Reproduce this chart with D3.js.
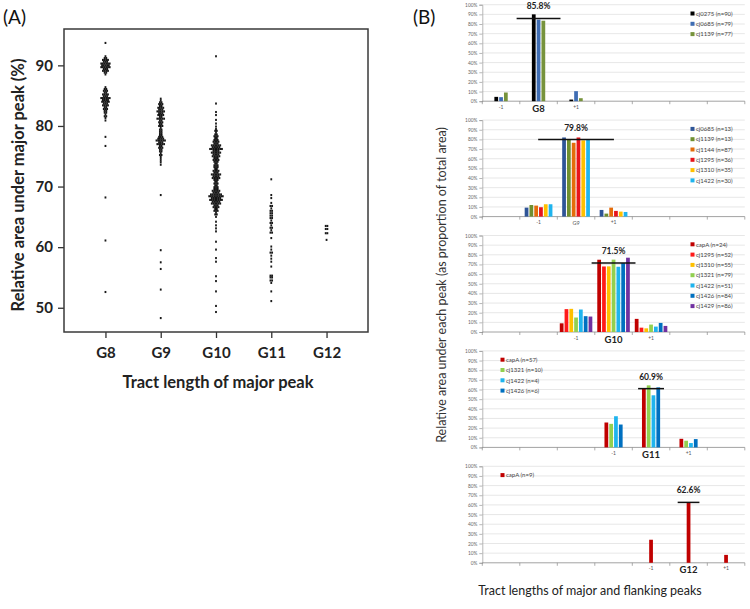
<!DOCTYPE html>
<html><head><meta charset="utf-8">
<script src="https://cdn.jsdelivr.net/npm/d3@7"></script>
<style>body{margin:0;background:#fff} svg{display:block}</style>
</head><body><svg id="c" width="750" height="609"></svg>
<script>
// ---------- Panel A data ----------
const aCategories = ["G8","G9","G10","G11","G12"];
const aTicks = [50,60,70,80,90];
const g8Values = [93.7,91.5,91.2,90.9,90.6,90.3,90.0,89.7,89.4,89.1,88.8,88.5,86.4,86.1,85.8,85.5,85.2,84.9,84.6,84.3,84.0,83.7,83.4,83.1,82.8,82.5,82.2,81.9,81.6,81.3,80.9,78.2,76.7,68.2,61.1,52.6];
const g8Counts = [1,1,2,4,3,6,5,6,3,4,2,1,1,2,3,2,4,3,6,4,5,3,4,2,3,2,2,1,2,1,1,1,1,1,1,1];
const g9Values = [84.5,84.2,83.9,83.6,83.3,83.0,82.7,82.4,82.1,81.8,81.5,81.2,80.9,80.6,80.3,80.0,79.7,79.4,79.1,78.8,78.5,78.2,77.9,77.6,77.3,77.0,76.7,76.4,76.1,75.8,75.5,75.2,74.9,74.6,74.3,74.0,73.6,68.6,59.5,57.5,56.4,53.0,48.3];
const g9Counts = [1,1,2,3,2,4,3,5,3,4,2,5,2,3,2,3,1,2,2,2,2,3,4,6,3,5,2,3,2,2,1,2,1,1,1,1,1,1,1,1,1,1,1];
const g10Values = [91.5,83.7,82.3,81.8,81.0,80.4,79.9,
  79.5,79.2,78.9,78.6,78.3,78.0,77.7,77.4,77.1,76.8,
  76.5,76.2,75.9,75.6,75.3,75.0,74.7,74.4,74.1,73.8,
  73.5,73.2,72.9,72.6,72.3,72.0,71.7,71.4,71.1,70.8,
  70.5,70.2,69.9,69.6,69.3,69.0,68.7,68.4,68.1,67.8,
  67.5,67.2,66.9,66.6,66.3,66.0,65.7,65.4,
  65.0,64.2,63.6,63.1,62.6,60.9,59.6,58.2,57.6,55.2,54.4,52.7,50.3,49.3];
const g10Counts = [1,1,1,1,1,1,1,
  1,2,1,2,3,2,3,4,3,6,
  5,8,4,6,4,5,3,4,3,2,
  3,3,2,4,3,6,4,5,3,2,
  3,2,3,3,5,4,7,9,6,8,
  5,6,3,4,2,3,1,2,
  1,1,1,1,1,1,1,1,1,1,1,1,1,1];
const g11Values = [71.2,68.6,68.1,67.3,66.8,66.4,66.0,65.6,65.2,64.8,64.4,64.0,63.6,63.2,62.8,62.4,61.5,60.1,59.6,59.1,58.6,58.1,57.6,56.8,55.3,55.0,54.5,54.1,52.7,51.1];
const g11Counts = [1,1,1,1,2,1,2,2,2,2,1,2,1,2,1,2,1,1,1,2,1,1,1,1,2,2,2,1,1,1];
const g12Values = [63.5,63.0,62.3,61.2];
const g12Counts = [2,2,2,1];

// ---------- Panel B data ----------
const bSlots = [0,1,2,3,4,5,6];
const bTicks = [0,10,20,30,40,50,60,70,80,90,100];
const bMajors = ["G8","G9","G10","G11","G12"];
const bMeans = [85.8,79.8,71.5,60.9,62.6];
const p1Series = ["cj0275 (n=90)","cj0685 (n=79)","cj1139 (n=77)"];
const p1Minus = [4.5,4.2,9.0], p1Major = [90.0,84.5,83.4], p1Plus = [1.7,10.4,3.1];
const p2Series = ["cj0685 (n=13)","cj1139 (n=13)","cj1144 (n=87)","cj1295 (n=36)","cj1310 (n=35)","cj1422 (n=30)"];
const p2Minus = [9.3,12.0,11.4,9.7,12.8,12.8], p2Major = [82.0,80.0,76.5,82.0,79.0,79.5], p2Plus = [6.9,3.1,9.3,5.9,5.2,4.8];
const p3Series = ["capA (n=24)","cj1295 (n=52)","cj1310 (n=55)","cj1321 (n=79)","cj1422 (n=51)","cj1426 (n=84)","cj1429 (n=86)"];
const p3Minus = [9.0,23.7,24.0,15.0,23.3,16.4,16.0], p3Major = [74.9,67.9,68.0,75.0,67.6,71.4,77.0], p3Plus = [13.6,4.5,3.8,7.7,5.6,9.4,6.3];
const p4Series = ["capA (n=57)","cj1321 (n=10)","cj1422 (n=4)","cj1426 (n=6)"];
const p4Minus = [25.8,24.4,32.3,23.7], p4Major = [61.5,64.3,54.0,62.2], p4Plus = [8.9,6.9,4.5,8.6];
const p5Series = ["capA (n=9)"];
const p5Minus = [23.9], p5Major = [62.5], p5Plus = [8.2];

// ---------- styles ----------
const p1Colors = ["#000000","#3f6db3","#77933c"];
const p2Colors = ["#2f5597","#6f8f30","#e46c0a","#e8141b","#ffc000","#1fb4ee"];
const p3Colors = ["#c00000","#ff1a1a","#ffc000","#92d050","#1fb4ee","#0070c0","#7030a0"];
const p4Colors = ["#c00000","#92d050","#1fb4ee","#0070c0"];
const p5Colors = ["#c00000"];
const meanSpans = [1.17,2.02,1.17,0.69,0.58];
const legendLeft = [false,false,false,true,true];

const FONT = "Lato, 'Open Sans', sans-serif";
const svg = d3.select("#c");

// ================= Panel A =================
const A = {l:64, r:368, t:29, b:332};
const yA = d3.scaleLinear().domain([46,96]).range([A.b, A.t]);
const xA = d3.scalePoint().domain(aCategories).range([A.l, A.r]).padding(0.75);
const gA = svg.append("g");

gA.append("text").attr("x",3).attr("y",24).attr("font-family",FONT).attr("font-size",19).attr("fill","#111").text("(A)");

const yAxA = gA.append("g").attr("transform",`translate(${A.l},0)`)
  .call(d3.axisLeft(yA).tickValues(aTicks).tickSize(6).tickPadding(5));
yAxA.select(".domain").remove();
yAxA.selectAll("line").attr("stroke","#333").attr("stroke-width",1.3);
yAxA.selectAll("text").attr("font-family",FONT).attr("font-weight","bold").attr("font-size",15).attr("fill","#222");

const xAxA = gA.append("g").attr("transform",`translate(0,${A.b})`)
  .call(d3.axisBottom(xA).tickSize(6));
xAxA.select(".domain").remove();
xAxA.selectAll("line").attr("stroke","#333").attr("stroke-width",1.3);
xAxA.selectAll("text").attr("y",26).attr("dy",0).attr("font-family",FONT).attr("font-weight","bold").attr("font-size",15).attr("fill","#222");

gA.append("rect").attr("x",A.l).attr("y",A.t).attr("width",A.r-A.l).attr("height",A.b-A.t)
  .attr("fill","none").attr("stroke","#3a3a3a").attr("stroke-width",1.5);

const groupsA = [[g8Values,g8Counts],[g9Values,g9Counts],[g10Values,g10Counts],[g11Values,g11Counts],[g12Values,g12Counts]];
const dots = [];
groupsA.forEach(([vals,cnts],gi)=>{
  vals.forEach((v,i)=>{
    const c = cnts[i];
    for(let j=0;j<c;j++) dots.push({cat:aCategories[gi], v, off:(j-(c-1)/2)*1.7, solo:c===1});
  });
});
gA.append("g").selectAll("rect").data(dots).join("rect")
  .attr("x",d=>xA(d.cat)+d.off-0.9).attr("y",d=>yA(d.v)-1.05)
  .attr("width",1.8).attr("height",2.1).attr("fill","#000").attr("opacity",0.9);

gA.append("text").attr("transform","translate(24,185) rotate(-90)").attr("text-anchor","middle")
  .attr("font-family",FONT).attr("font-weight","bold").attr("font-size",16.5).attr("fill","#222")
  .text("Relative area under major peak (%)");
gA.append("text").attr("x",218).attr("y",388).attr("text-anchor","middle")
  .attr("font-family",FONT).attr("font-weight","bold").attr("font-size",16.5).attr("fill","#222")
  .text("Tract length of major peak");

// ================= Panel B =================
const gB = svg.append("g");
gB.append("text").attr("x",413).attr("y",24).attr("font-family",FONT).attr("font-size",19).attr("fill","#111").text("(B)");
gB.append("text").attr("transform","translate(446,285) rotate(-90)").attr("text-anchor","middle")
  .attr("font-family",FONT).attr("font-size",12.5).attr("fill","#333")
  .text("Relative area under each peak (as proportion of total area)");
gB.append("text").attr("x",590).attr("y",595).attr("text-anchor","middle")
  .attr("font-family",FONT).attr("font-size",12.5).attr("fill","#222")
  .text("Tract lengths of major and flanking peaks");

const xB = d3.scaleBand().domain(bSlots).range([482.3,744.8]).padding(0);
const bw = xB.bandwidth();
const panels = [
  [p1Series,p1Minus,p1Major,p1Plus,p1Colors],
  [p2Series,p2Minus,p2Major,p2Plus,p2Colors],
  [p3Series,p3Minus,p3Major,p3Plus,p3Colors],
  [p4Series,p4Minus,p4Major,p4Plus,p4Colors],
  [p5Series,p5Minus,p5Major,p5Plus,p5Colors]
];
panels.forEach(([series,minus,major,plus,colors],p)=>{
  const top = 4.7 + p*115.4, bot = top + 96.5;
  const yB = d3.scaleLinear().domain([0,100]).range([bot,top]);
  const g = gB.append("g");
  g.append("g").selectAll("line").data(bTicks.slice(1)).join("line")
    .attr("x1",xB.range()[0]).attr("x2",xB.range()[1]).attr("y1",d=>yB(d)).attr("y2",d=>yB(d))
    .attr("stroke","#dcdcdc").attr("stroke-width",0.7);
  const ya = g.append("g").attr("transform",`translate(${xB.range()[0]},0)`)
    .call(d3.axisLeft(yB).tickValues(bTicks).tickSize(3).tickPadding(2).tickFormat(d=>d+"%"));
  ya.select(".domain").attr("stroke","#9a9a9a").attr("stroke-width",0.7);
  ya.selectAll("line").attr("stroke","#9a9a9a").attr("stroke-width",0.7);
  ya.selectAll("text").attr("font-family",FONT).attr("font-size",4.8).attr("fill","#666");
  g.append("line").attr("x1",xB.range()[0]).attr("x2",xB.range()[1]).attr("y1",bot).attr("y2",bot)
    .attr("stroke","#8a8a8a").attr("stroke-width",0.8);
  g.append("g").selectAll("line").data(d3.range(8)).join("line")
    .attr("x1",d=>xB.range()[0]+d*bw).attr("x2",d=>xB.range()[0]+d*bw).attr("y1",bot).attr("y2",bot+3)
    .attr("stroke","#8a8a8a").attr("stroke-width",0.7);
  const n = series.length;
  const xs = d3.scaleBand().domain(d3.range(n)).range([-n*4.8/2, n*4.8/2]).paddingInner(0.22).paddingOuter(0.11);
  const groups = [[p,minus],[p+1,major],[p+2,plus]];
  groups.forEach(([slot,vals])=>{
    const cx = xB(slot)+bw/2;
    g.append("g").selectAll("rect").data(vals).join("rect")
      .attr("x",(d,i)=>cx+xs(i)).attr("width",xs.bandwidth())
      .attr("y",d=>yB(d)).attr("height",d=>bot-yB(d))
      .attr("fill",(d,i)=>colors[i]);
  });
  const labs = [[p,"-1"],[p+2,"+1"]];
  labs.forEach(([slot,t])=>{
    g.append("text").attr("x",xB(slot)+bw/2).attr("y",bot+7.5).attr("text-anchor","middle")
      .attr("font-family",FONT).attr("font-size",5).attr("fill","#555").text(t);
  });
  const isSmall = bMajors[p]==="G9";
  g.append("text").attr("x",xB(p+1)+bw/2).attr("y",isSmall?bot+8:bot+10.5).attr("text-anchor","middle")
    .attr("font-family",FONT).attr("font-weight",isSmall?"normal":"bold").attr("font-size",isSmall?5.5:9.5)
    .attr("fill",isSmall?"#555":"#222").text(bMajors[p]);
  const mx = xB(p+1)+bw/2, span = meanSpans[p]*bw;
  g.append("line").attr("x1",mx-span/2).attr("x2",mx+span/2).attr("y1",yB(bMeans[p])).attr("y2",yB(bMeans[p]))
    .attr("stroke","#111").attr("stroke-width",1.5);
  g.append("text").attr("x",mx).attr("y",yB(bMeans[p])-9).attr("text-anchor","middle")
    .attr("font-family",FONT).attr("font-weight","bold").attr("font-size",8.5).attr("fill","#222")
    .text(bMeans[p].toFixed(1)+"%");
  const lx = legendLeft[p] ? 500.5 : 690.5;
  const lg = g.append("g").selectAll("g").data(series).join("g")
    .attr("transform",(d,i)=>`translate(${lx},${top+9+i*10.3})`);
  lg.append("rect").attr("x",0).attr("y",-2.2).attr("width",4).attr("height",4).attr("fill",(d,i)=>colors[i]);
  lg.append("text").attr("x",5.5).attr("y",2).attr("font-family",FONT).attr("font-size",6).attr("fill","#444").text(d=>d);
});
</script></body></html>
